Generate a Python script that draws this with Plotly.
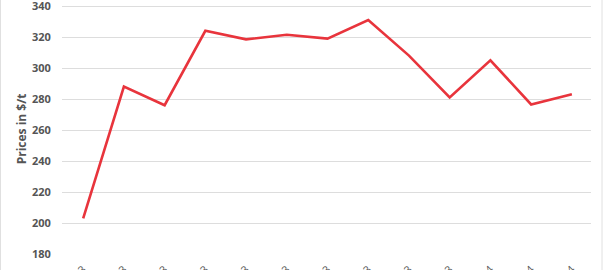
import plotly.graph_objects as go

months = ["Mar-23", "Apr-23", "May-23", "Jun-23", "Jul-23", "Aug-23", "Sep-23",
          "Oct-23", "Nov-23", "Dec-23", "Jan-24", "Feb-24", "Mar-24"]
prices = [203, 288, 276, 324, 318.5, 321.5, 319, 331, 308, 281, 305, 276.5, 283]
y_ticks = [180, 200, 220, 240, 260, 280, 300, 320, 340]

fig = go.Figure()
fig.add_trace(go.Scatter(
    x=months, y=prices, mode="lines",
    line=dict(color="#E8343C", width=2.6),
    hoverinfo="skip",
))

W, H = 604, 270
L, R, T, B = 62, 13, 4, 16
pw = W - L - R

fig.update_layout(
    width=W, height=H,
    margin=dict(l=L, r=R, t=T, b=B, pad=0),
    paper_bgcolor="white", plot_bgcolor="white",
    showlegend=False,
    font=dict(family="Open Sans", color="#555555"),
    xaxis=dict(
        type="category", range=[-0.52, 12.47],
        showgrid=False, zeroline=False, showline=False,
        tickangle=-45, automargin=False,
        tickfont=dict(size=11, color="#555555"),
        ticks="", ticklen=0, ticklabelstandoff=6,
    ),
    yaxis=dict(
        range=[180, 341.3], tickvals=y_ticks,
        showgrid=True, gridcolor="#dddddd", gridwidth=1,
        zeroline=False, showline=False, automargin=False,
        ticklabeloverflow="allow",
        tickfont=dict(size=11, color="#555555", family="Open Sans", weight="bold"),
        ticks="outside", ticklen=8, tickcolor="rgba(0,0,0,0)",
        title=dict(text="Prices in $/t", standoff=2,
                   font=dict(size=12, color="#555555", weight="bold")),
    ),
    shapes=[
        dict(type="line", xref="paper", yref="paper",
             x0=(602 - L) / pw, x1=(602 - L) / pw, y0=-1, y1=2,
             line=dict(color="#e0e0e0", width=1)),
        dict(type="line", xref="paper", yref="paper",
             x0=(0.5 - L) / pw, x1=(0.5 - L) / pw, y0=-1, y1=2,
             line=dict(color="#e0e0e0", width=1)),
    ],
)

fig.write_html("out.html")
